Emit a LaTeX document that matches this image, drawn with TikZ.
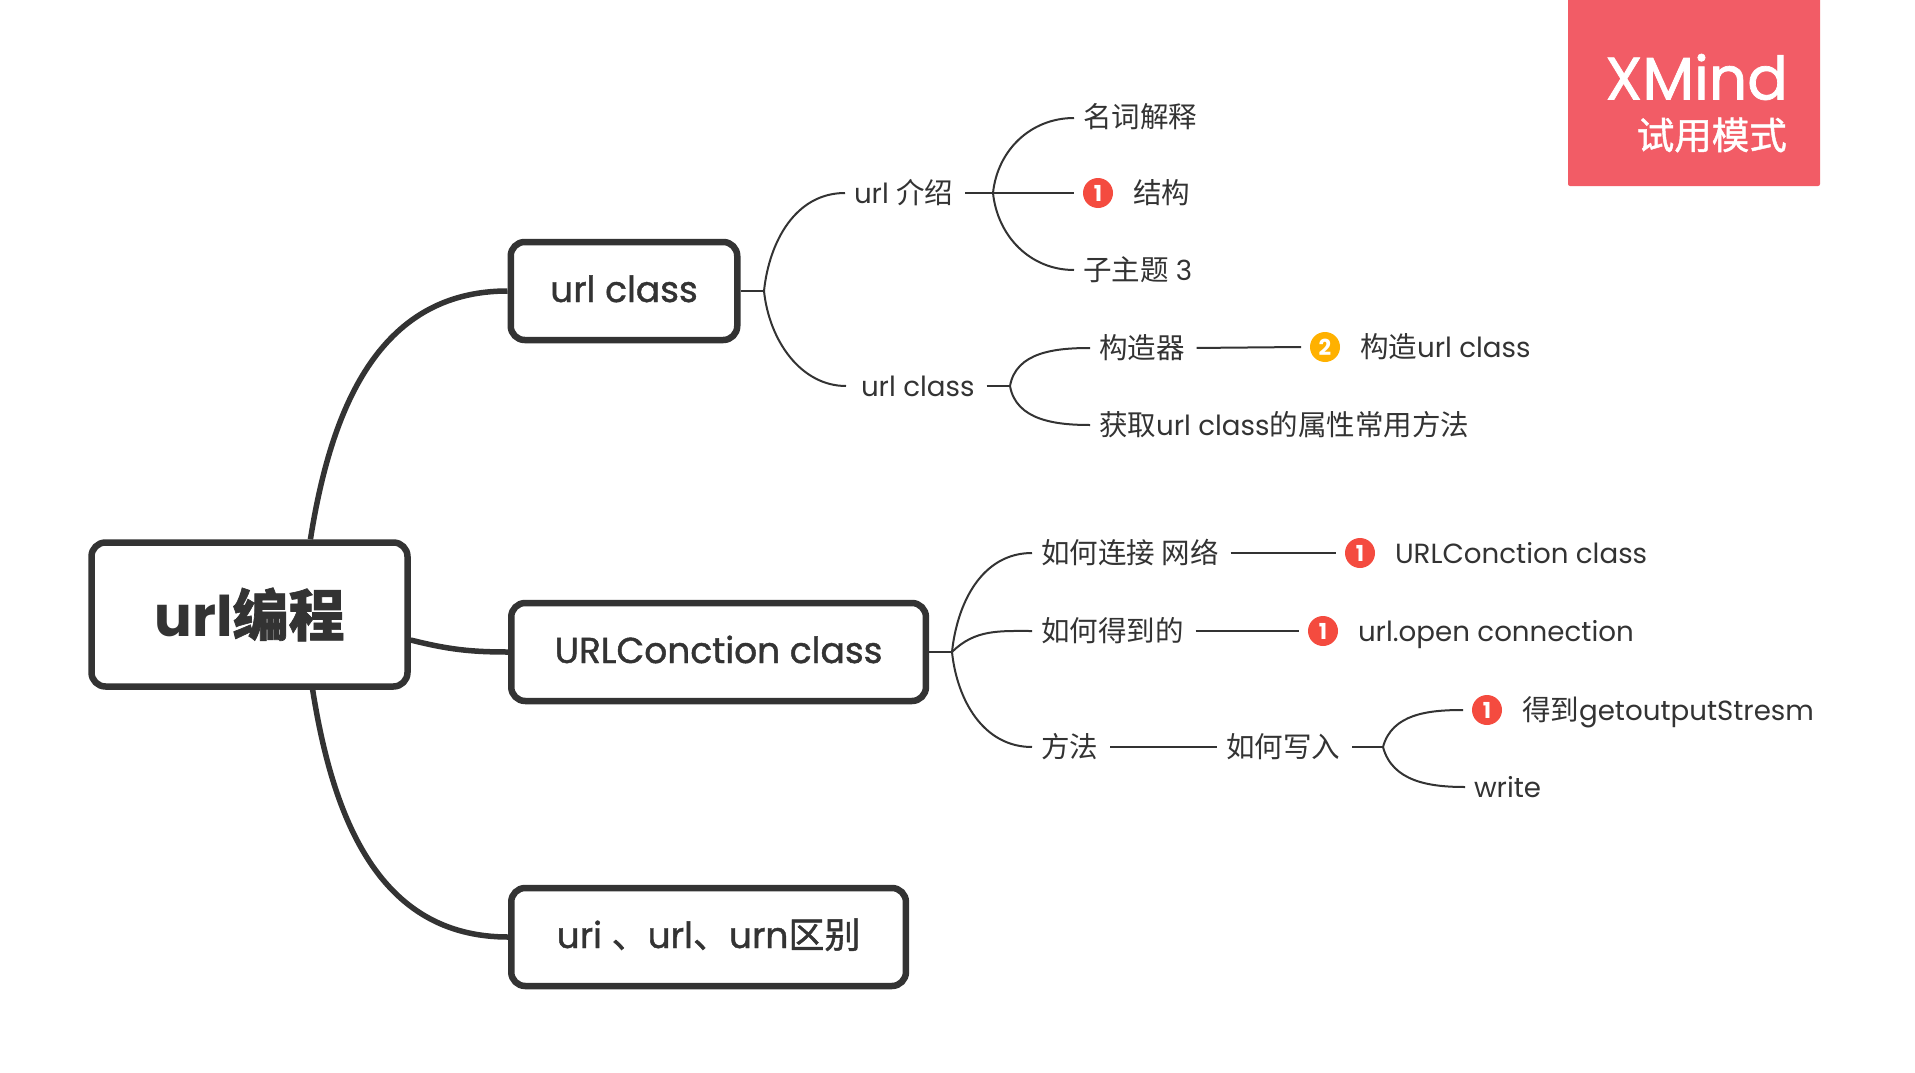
\documentclass[tikz,border=0pt]{standalone}
\usepackage{fontspec}
\setmainfont{Poppins}
\newfontfamily\cjkfont[Scale=1.03]{Noto Sans CJK SC}
\newfontfamily\medfont[FakeBold=1.2]{Poppins}
\newfontfamily\medcjk[FakeBold=1.2]{Noto Sans CJK SC}
\newcommand{\cn}[1]{{\cjkfont #1}}
\newcommand{\mc}[1]{{\medcjk #1}}
\definecolor{ink}{HTML}{333333}
\definecolor{badgered}{HTML}{F25C66}
\definecolor{iconred}{HTML}{F44B3F}
\definecolor{iconamber}{HTML}{FFB100}
\tikzset{
    rootbox/.style={draw=ink, fill=white, line width=6.5pt, rounded corners=14pt, text=ink, font=\fontsize{56}{64}\selectfont\bfseries},
    mainbox/.style={draw=ink, fill=white, line width=6.5pt, rounded corners=14pt, text=ink, text height=26pt, text depth=4pt, font=\fontsize{36}{42}\selectfont\medfont},
    topic/.style={anchor=west, inner xsep=9pt, inner ysep=0pt, outer sep=0pt, text height=24pt, text depth=4pt, text=ink, font=\fontsize{27.7}{32}\selectfont},
    icon/.style={circle, fill=#1, inner sep=0pt, outer sep=9pt, minimum size=30pt, text=white, font=\fontsize{22}{22}\selectfont\bfseries},
    mainline/.style={draw=ink, line width=5.5pt},
    leafline/.style={draw=ink, line width=2pt},
    stubline/.style={leafline, shorten <=3pt}
}
\begin{document}
\begin{tikzpicture}[x=1pt, y=-1pt]
    \useasboundingbox (0,0) rectangle (1915,1073);

    \fill[badgered, rounded corners=2pt] (1568,-5) rectangle (1820,186);
    \node[anchor=east, inner sep=0pt, text=white, font=\fontsize{60}{64}\selectfont\medfont] (badgetitle) at (1788,77) {XMind};
    \node[anchor=east, inner sep=0pt, text=white, font=\fontsize{37.5}{42}\selectfont\medcjk] (badgemode) at (1787,135) {试用模式};

    \node[rootbox, minimum width=316pt, minimum height=144pt] (root) at (249.5,614.5) {url\mc{编程}};
    \node[mainbox, minimum width=226.5pt, minimum height=98pt] (b1) at (624,291) {url class};
    \node[mainbox, minimum width=414.7pt, minimum height=98pt] (b2) at (718.6,652) {URLConction class};
    \node[mainbox, minimum width=394.7pt, minimum height=98pt] (b3) at (708.6,937) {uri \mc{、}url\mc{、}urn\mc{区别}};

    \coordinate (f1) at (764,291);
    \coordinate (f2) at (952,652);

    % second level and leaves
    \foreach \name/\x/\y/\txt in {
        a/845/193/{url \cn{介绍}},
        a1/1074/118/{\cn{名词解释}},
        a3/1074/270/{\cn{子主题} 3},
        c/852/386/{url class},
        c1/1090/348/{\cn{构造器}},
        c2/1090/425/{\cn{获取}url class\cn{的属性常用方法}},
        d1/1032/553/{\cn{如何连接 网络}},
        d2/1032/631/{\cn{如何得到的}},
        d3/1032/747/{\cn{方法}},
        d4/1217/747/{\cn{如何写入}},
        d6/1465/787/{write}}
        {\node[topic] (\name) at (\x,\y) {\txt};}

    % leaves that carry a numbered icon
    \foreach \name/\x/\y/\col/\num/\txt in {
        a2/1098/193/iconred/1/{\cn{结构}},
        c3/1325/347/iconamber/2/{\cn{构造}url class},
        e1/1360/553/iconred/1/{URLConction class},
        e2/1323/631/iconred/1/{url.open connection},
        d5/1487/710/iconred/1/{\cn{得到}getoutputStresm}}
        {\node[icon=\col] (\name i) at (\x,\y) {\num};
         \node[topic, xshift=2pt] (\name) at (\name i.east) {\txt};}

    \coordinate (f1a) at (993,193);
    \coordinate (f1c) at (1010,386);
    \coordinate (f2d) at (1383,747);

    \draw[mainline] (root.51) to[out=81,in=180,looseness=1.05] (b1.west);
    \draw[mainline] (root.-9.6) to[out=-14,in=180] (b2.west);
    \draw[mainline] (root.-50) to[out=-81,in=180,looseness=1.05] (b3.west);

    \draw[leafline] (b1.east) -- (f1);
    \draw[leafline] (b2.east) -- (f2);
    \draw[stubline] (a.east) -- (f1a);
    \draw[stubline] (c.east) -- (f1c);
    \draw[stubline] (d4.east) -- (f2d);
    \draw[leafline] (f1a) -- (a2i.west);
    \draw[stubline] (c1.east) -- (c3i.west);
    \draw[stubline] (d1.east) -- (e1i.west);
    \draw[stubline] (d2.east) -- (e2i.west);
    \draw[stubline] (d3.east) -- (d4.west);

    \draw[leafline, shorten >=6pt] (f1) to[out=-84,in=180] (c.west);
    \foreach \from/\ang/\to in {f1/84/a, f1a/84/a1, f1a/-84/a3, f1c/80/c1, f1c/-80/c2,
        f2/84/d1, f2/45/d2, f2/-84/d3, f2d/75/d5i, f2d/-75/d6}
        {\draw[leafline] (\from) to[out=\ang,in=180] (\to.west);}
\end{tikzpicture}
\end{document}
